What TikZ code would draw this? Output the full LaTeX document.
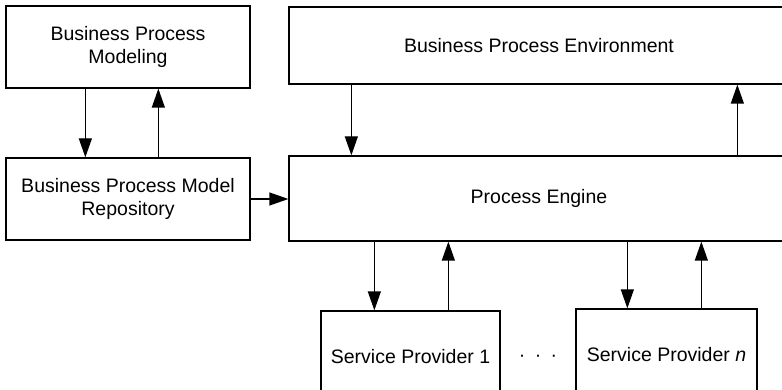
\documentclass[tikz,border=0pt]{standalone}
\usepackage{fontspec}
\setmainfont{Liberation Sans}
\usetikzlibrary{arrows.meta}
\begin{document}
\begin{tikzpicture}[x=1pt,y=-1pt,
  box/.style={draw=black,line width=1.3pt,rectangle,inner sep=0pt,align=center,
    font=\fontsize{19.5}{23.5}\selectfont},
  arr/.style={draw=black,line width=1.3pt,-{Triangle[length=19pt,width=13pt]}}]
\useasboundingbox (0,0) rectangle (782,390);
\clip (0,0) rectangle (782,390);
\node[box,minimum width=244pt,minimum height=82pt] (bpm) at (128,47) {Business Process\\Modeling};
\node[box,minimum width=244pt,minimum height=82pt] (repo) at (128,199) {Business Process Model\\Repository};
\node[box,minimum width=500pt,minimum height=77pt] (bpe) at (539,45.5) {Business Process Environment};
\node[box,minimum width=500pt,minimum height=85pt] (pe) at (539,198.5) {Process Engine};
\node[box,minimum width=179pt,minimum height=92pt] (sp1) at (410.5,357) {Service Provider 1};
\node[box,minimum width=181pt,minimum height=92pt] (spn) at (666.5,355) {Service Provider \textit{n}};
\node[font=\fontsize{19.5}{23.5}\selectfont,inner sep=0pt] (dots) at (538,358) {·\hspace{9.5pt}·\hspace{9.5pt}·};
% left column
\coordinate (l1) at ([xshift=80pt]bpm.south west);
\coordinate (l2) at ([xshift=153pt]bpm.south west);
\draw[arr] (l1) -- (l1 |- repo.north);
\draw[arr] (l2 |- repo.north) -- (l2);
\draw[arr] (repo.east) -- (pe.west |- repo.east);
% top right
\coordinate (t1) at ([xshift=63pt]bpe.south west);
\coordinate (t2) at ([xshift=449pt]bpe.south west);
\draw[arr] (t1) -- (t1 |- pe.north);
\draw[arr] (t2 |- pe.north) -- (t2);
% service providers
\coordinate (s1) at ([xshift=54pt]sp1.north west);
\coordinate (s2) at ([xshift=128pt]sp1.north west);
\coordinate (s3) at ([xshift=52pt]spn.north west);
\coordinate (s4) at ([xshift=126pt]spn.north west);
\draw[arr] (s1 |- pe.south) -- (s1);
\draw[arr] (s2) -- (s2 |- pe.south);
\draw[arr] (s3 |- pe.south) -- (s3);
\draw[arr] (s4) -- (s4 |- pe.south);
\end{tikzpicture}
\end{document}
